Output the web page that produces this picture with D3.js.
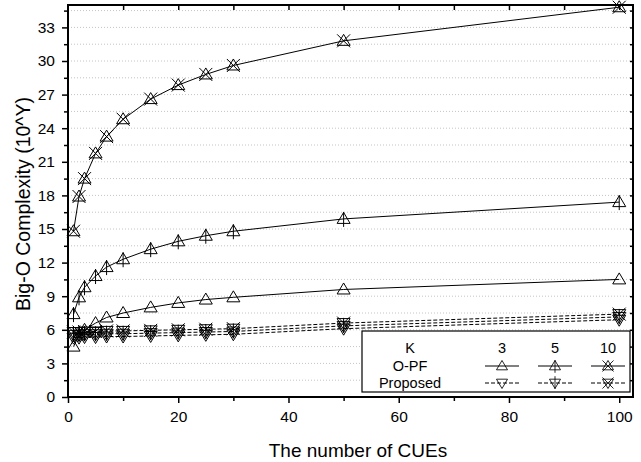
<!DOCTYPE html>
<html>
<head>
<meta charset="utf-8">
<script src="https://cdn.jsdelivr.net/npm/d3@7"></script>
<style>
  body { margin: 0; background: #fff; }
  svg { font-family: Arial, "Liberation Sans", sans-serif; }
</style>
</head>
<body>
<svg id="chart" width="641" height="462"></svg>
<script>
'use strict';

// number of CUEs on the x axis
const cues = [1, 2, 3, 5, 7, 10, 15, 20, 25, 30, 50, 100];

// O-PF, one array per K
const opfK3  = [4.5, 5.5, 6.0, 6.6, 7.1, 7.5, 8.0, 8.4, 8.7, 8.9, 9.6, 10.5];
const opfK5  = [7.4, 8.9, 9.8, 10.8, 11.6, 12.3, 13.2, 13.9, 14.4, 14.8, 15.9, 17.4];
const opfK10 = [14.8, 17.9, 19.5, 21.75, 23.25, 24.8, 26.6, 27.85, 28.8, 29.6, 31.8, 34.8];

// Proposed, one array per K
const propK3  = [5.3, 5.3, 5.35, 5.35, 5.4, 5.4, 5.45, 5.5, 5.55, 5.6, 6.1, 6.9];
const propK5  = [5.55, 5.55, 5.6, 5.6, 5.65, 5.65, 5.7, 5.75, 5.8, 5.85, 6.35, 7.15];
const propK10 = [5.8, 5.8, 5.85, 5.85, 5.9, 5.9, 5.95, 6.0, 6.05, 6.1, 6.6, 7.4];

const kLabels = ['3', '5', '10'];
const xTicks = [0, 20, 40, 60, 80, 100];
const yTicks = [0, 3, 6, 9, 12, 15, 18, 21, 24, 27, 30, 33];

const svg = d3.select('#chart');
const pLeft = 68, pRight = 633, pTop = 5, pBottom = 397;

const x = d3.scaleLinear().domain([0, 102.5]).range([pLeft, pRight]);
const y = d3.scaleLinear().domain([0, 35]).range([pBottom, pTop]);

// dotted horizontal grid every 1.5
const gridVals = d3.range(1.5, 35, 1.5);
svg.append('g').selectAll('line').data(gridVals).join('line')
  .attr('x1', pLeft).attr('x2', pRight)
  .attr('y1', d => y(d)).attr('y2', d => y(d))
  .attr('stroke', '#c4c4c4').attr('stroke-width', 1)
  .attr('stroke-dasharray', '1,2');

/* Marker shapes: up/down triangle, with vertical bar (K=5) or X (K=10) */
function markerPath(kind, down) {
  const s = down ? -1 : 1;
  let p = 'M0,' + (-6.5 * s) + ' L6.5,' + (4.5 * s) + ' L-6.5,' + (4.5 * s) + ' Z';
  if (kind === 1) p += ' M0,' + (-7 * s) + ' L0,' + (8 * s);
  if (kind === 2) p += ' M-6.5,-6.5 L6.5,6.5 M6.5,-6.5 L-6.5,6.5';
  return p;
}

const series = [
  {vals: opfK3, kind: 0, down: false, dash: null},
  {vals: opfK5, kind: 1, down: false, dash: null},
  {vals: opfK10, kind: 2, down: false, dash: null},
  {vals: propK3, kind: 0, down: true, dash: '4,2'},
  {vals: propK5, kind: 1, down: true, dash: '4,2'},
  {vals: propK10, kind: 2, down: true, dash: '4,2'}
];

const line = d3.line().x(d => x(d[0])).y(d => y(d[1]));

series.forEach(function(s) {
  const pts = cues.map((c, i) => [c, s.vals[i]]);
  svg.append('path')
    .attr('fill', 'none')
    .attr('stroke', '#000')
    .attr('stroke-width', 1)
    .attr('stroke-dasharray', s.dash)
    .attr('d', line(pts));
  svg.append('g').selectAll('path').data(pts).join('path')
    .attr('transform', d => 'translate(' + x(d[0]) + ',' + y(d[1]) + ')')
    .attr('d', markerPath(s.kind, s.down))
    .attr('fill', 'none')
    .attr('stroke', '#000')
    .attr('stroke-width', 1);
});

// axes
const xAxis = d3.axisBottom(x).tickValues(xTicks).tickSize(6).tickPadding(8).tickSizeOuter(0);
const gx = svg.append('g').attr('transform', 'translate(0,' + pBottom + ')').call(xAxis);
svg.append('g').attr('transform', 'translate(0,' + pBottom + ')')
  .call(d3.axisBottom(x).tickValues(d3.range(10, 101, 20)).tickSize(4).tickFormat('').tickSizeOuter(0))
  .select('.domain').remove();

const yAxis = d3.axisLeft(y).tickValues(yTicks).tickSize(6).tickPadding(7).tickSizeOuter(0);
const gy = svg.append('g').attr('transform', 'translate(' + pLeft + ',0)').call(yAxis);
svg.append('g').attr('transform', 'translate(' + pLeft + ',0)')
  .call(d3.axisLeft(y).tickValues(d3.range(1.5, 35, 3)).tickSize(4).tickFormat('').tickSizeOuter(0))
  .select('.domain').remove();

// top and right: inward ticks
svg.append('g').attr('transform', 'translate(0,' + pTop + ')')
  .call(d3.axisBottom(x).tickValues(d3.range(10, 101, 10)).tickSize(5).tickFormat('').tickSizeOuter(0))
  .select('.domain').remove();
svg.append('g').attr('transform', 'translate(' + pRight + ',0)')
  .call(d3.axisLeft(y).tickValues(d3.range(1.5, 35, 1.5)).tickSize(3).tickFormat('').tickSizeOuter(0))
  .select('.domain').remove();

svg.selectAll('.tick line').attr('stroke-width', 1.5);
[gx, gy].forEach(g => g.selectAll('text').attr('font-size', 15.5).attr('fill', '#000')
  .attr('font-family', 'Arial, "Liberation Sans", sans-serif'));

svg.append('rect')
  .attr('x', pLeft).attr('y', pTop)
  .attr('width', pRight - pLeft).attr('height', pBottom - pTop)
  .attr('fill', 'none').attr('stroke', '#000').attr('stroke-width', 2);

// axis titles
svg.append('text')
  .attr('x', 358).attr('y', 457)
  .attr('text-anchor', 'middle').attr('font-size', 19)
  .text('The number of CUEs');
svg.append('text')
  .attr('transform', 'translate(30,' + 204 + ') rotate(-90)')
  .attr('text-anchor', 'middle').attr('font-size', 19.5)
  .text('Big-O Complexity (10^Y)');

// legend
const lg = svg.append('g');
lg.append('rect').attr('x', 362).attr('y', 331).attr('width', 268).attr('height', 61)
  .attr('fill', '#fff').attr('stroke', '#000').attr('stroke-width', 1.2);
const colX = [502, 555, 608];
const rowY = [348, 366, 383];
lg.append('text').attr('x', 410).attr('y', rowY[0] + 5).attr('text-anchor', 'middle').attr('font-size', 14.5).text('K');
lg.append('text').attr('x', 410).attr('y', rowY[1] + 5).attr('text-anchor', 'middle').attr('font-size', 14.5).text('O-PF');
lg.append('text').attr('x', 410).attr('y', rowY[2] + 5).attr('text-anchor', 'middle').attr('font-size', 14.5).text('Proposed');
kLabels.forEach(function(k, i) {
  lg.append('text').attr('x', colX[i]).attr('y', rowY[0] + 5).attr('text-anchor', 'middle').attr('font-size', 14.5).text(k);
  [0, 1].forEach(function(r) {
    const s = series[r * 3 + i];
    lg.append('line').attr('x1', colX[i] - 17).attr('x2', colX[i] + 17)
      .attr('y1', rowY[r + 1]).attr('y2', rowY[r + 1])
      .attr('stroke', '#000').attr('stroke-dasharray', s.dash);
    lg.append('path').attr('transform', 'translate(' + colX[i] + ',' + rowY[r + 1] + ') scale(0.85)')
      .attr('d', markerPath(s.kind, s.down))
      .attr('fill', 'none').attr('stroke', '#000');
  });
});
</script>
</body>
</html>
